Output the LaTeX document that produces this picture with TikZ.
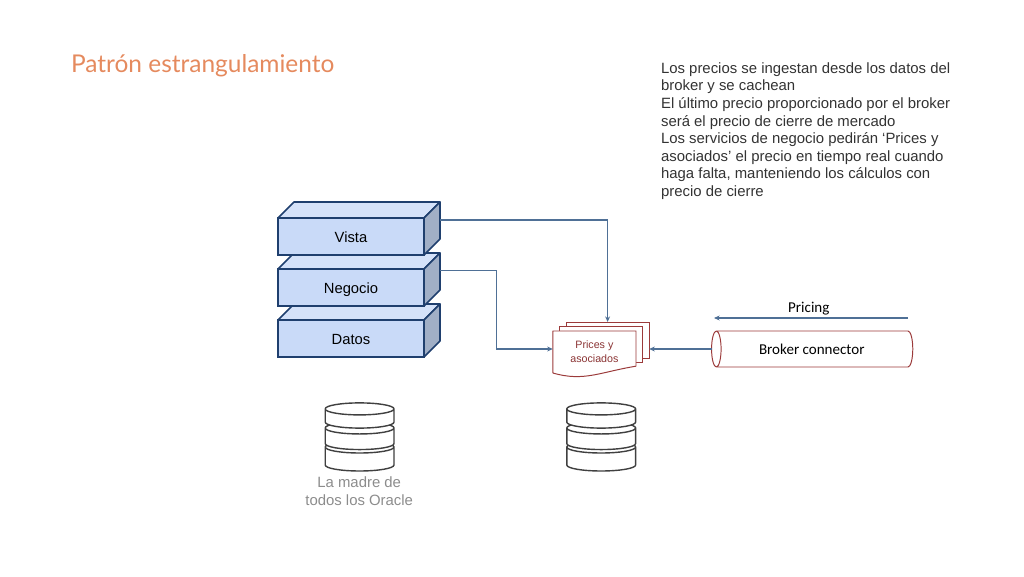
\documentclass[tikz,border=0pt]{standalone}
\usepackage{fontspec}
\setmainfont{Liberation Sans}
\newfontfamily\titlefont{Lato}
\newfontfamily\calibrifont{Carlito}
\usetikzlibrary{shapes.geometric,calc,arrows.meta}
\definecolor{layerfill}{HTML}{C9DAF8}
\definecolor{layertop}{HTML}{D5E2F9}
\definecolor{layerside}{HTML}{A1AFC6}
\definecolor{layerline}{HTML}{1F3F6E}
\definecolor{busline}{HTML}{4F7096}
\definecolor{docline}{HTML}{9B3A3A}
\definecolor{titleorange}{HTML}{E58A5E}
\newcommand{\drawdisk}[1]{\draw[diskface] ($(#1.north west)+(0,-0.15)$) arc[start angle=180, end angle=0, x radius=0.86, y radius=0.15] -- ($(#1.south east)+(0,0.15)$) arc[start angle=360, end angle=180, x radius=0.86, y radius=0.15] -- cycle ($(#1.north west)+(0,-0.15)$) arc[start angle=180, end angle=360, x radius=0.86, y radius=0.15];}
\begin{document}
\begin{tikzpicture}[
    layer/.style={rectangle, draw=layerline, fill=layerfill, minimum width=3.65cm, minimum height=0.925cm, inner sep=0pt, outer sep=0pt, line width=1.1pt, text height=10pt, text depth=1.7pt, font=\fontsize{10.5}{12}\selectfont},
    layerface/.style={draw=layerline, line width=1.1pt, line join=round},
    sheet/.style={rectangle, draw=docline, fill=white, inner sep=0pt, outer sep=0pt, line width=0.7pt, minimum width=2.08cm, minimum height=0.9cm},
    disk/.style={rectangle, minimum width=1.72cm, inner sep=0pt, outer sep=0pt},
    diskface/.style={draw=black!75, fill=white, line width=1pt},
    bus/.style={-{Stealth[length=4pt,width=3.5pt]}, draw=busline, line width=0.8pt},
    bodytext/.style={font=\fontsize{10.6}{12.55}\selectfont, align=left, inner sep=0pt, text=black!80}
]
\useasboundingbox (0,0) rectangle (25.6,14.4);

% Title and note
\node[font=\titlefont\fontsize{17.4}{20}\selectfont, text=titleorange, anchor=west, inner sep=0pt] (title) at (1.77, 12.75) {Patrón estrangulamiento};
\node[bodytext, anchor=north west] (note) at (16.52, 12.85) {Los precios se ingestan desde los datos del\\broker y se cachean\\El último precio proporcionado por el broker\\será el precio de cierre de mercado\\Los servicios de negocio pedirán ‘Prices y\\asociados’ el precio en tiempo real cuando\\haga falta, manteniendo los cálculos con\\precio de cierre};

% Layers, bottom one first
\node[layer] (datos) at (8.775, 5.9375) {Datos};
\draw[layerface, fill=layertop] (datos.north west) -- ++(0.4,0.4) -- ++(3.65,0) -- (datos.north east) -- cycle;
\draw[layerface, fill=layerside] (datos.north east) -- ++(0.4,0.4) -- ++(0,-0.925) -- (datos.south east) -- cycle;

\node[layer] (negocio) at (8.775, 7.2125) {Negocio};
\draw[layerface, fill=layertop] (negocio.north west) -- ++(0.4,0.4) -- ++(3.65,0) -- (negocio.north east) -- cycle;
\draw[layerface, fill=layerside] (negocio.north east) -- ++(0.4,0.4) -- ++(0,-0.925) -- (negocio.south east) -- cycle;

\node[layer] (vista) at (8.775, 8.4875) {Vista};
\draw[layerface, fill=layertop] (vista.north west) -- ++(0.4,0.4) -- ++(3.65,0) -- (vista.north east) -- cycle;
\draw[layerface, fill=layerside] (vista.north east) -- ++(0.4,0.4) -- ++(0,-0.925) -- (vista.south east) -- cycle;

% Databases, bottom disk first
\node[disk, minimum height=0.75cm] (oracleC) at (8.99, 3.0) {};
\node[disk, minimum height=0.69cm] (oracleB) at (8.99, 3.506) {};
\node[disk, minimum height=0.63cm] (oracleA) at (8.99, 4.0125) {};
\drawdisk{oracleC}
\drawdisk{oracleB}
\drawdisk{oracleA}
\node[font=\fontsize{10.6}{12.8}\selectfont, text=black!45, align=center, inner sep=0pt] (oracle) at (8.98, 2.11) {La madre de\\todos los Oracle};

\node[disk, minimum height=0.75cm] (pricesdbC) at (15.03, 3.0) {};
\node[disk, minimum height=0.69cm] (pricesdbB) at (15.03, 3.506) {};
\node[disk, minimum height=0.63cm] (pricesdbA) at (15.03, 4.0125) {};
\drawdisk{pricesdbC}
\drawdisk{pricesdbB}
\drawdisk{pricesdbA}

% Document stack
\node[sheet] (sheetC) at (15.19, 5.9) {};
\node[sheet] (sheetB) at (15.03, 5.8) {};
\node[rectangle, minimum width=2.08cm, minimum height=1.05cm, inner sep=0pt, outer sep=0pt] (pricesframe) at (14.86, 5.6) {};
\draw[docline, fill=white, line width=0.7pt, line join=round] (pricesframe.south west) -- (pricesframe.north west) -- (pricesframe.north east) -- ($(pricesframe.south east)+(0,0.17)$) .. controls (15.0,5.1) and (14.6,4.85) .. (pricesframe.south west);
\node[align=center, text=docline!90!black, font=\fontsize{7.6}{9.9}\selectfont, inner sep=0pt] (prices) at (pricesframe.center) {Prices y\\asociados};

% Broker
\node[cylinder, shape border rotate=180, shape aspect=0.9, draw=docline, line width=0.7pt, minimum width=0.9cm, minimum height=5.03cm, inner sep=0pt, outer sep=0pt, font=\calibrifont\fontsize{10.7}{12}\selectfont] (broker) at (20.37, 5.675) {Broker connector\hspace{4.3pt}\null};
\node[font=\calibrifont\fontsize{10.7}{12}\selectfont, inner sep=0pt] (pricing) at (20.22, 6.68) {Pricing};
\coordinate (pricingstart) at (22.7, 6.45);
\coordinate (pricingend) at (17.85, 6.45);

% Interconnections
\coordinate (vistaout) at ($(vista.north east)+(0.4,-0.05)$);
\coordinate (negocioout) at ($(negocio.north east)+(0.4,-0.04)$);
\draw[bus] (vistaout) -| (sheetC.north);
\draw[bus] (negocioout) -- ++(1.42,0) |- (pricesframe.west |- broker.west);
\draw[bus] (broker.west) -- (broker.west -| sheetC.east);
\draw[bus] (pricingstart) -- (pricingend);

\end{tikzpicture}
\end{document}
